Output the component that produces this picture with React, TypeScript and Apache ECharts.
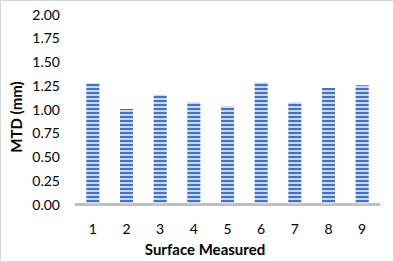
import React, { useEffect, useRef } from "react";
import * as echarts from "echarts";

const categories = ["1", "2", "3", "4", "5", "6", "7", "8", "9"];
const mtdValues = [1.27, 1.0, 1.15, 1.07, 1.03, 1.28, 1.07, 1.22, 1.25];
const yTicks = [0, 0.25, 0.5, 0.75, 1.0, 1.25, 1.5, 1.75, 2.0];
const xTitle = "Surface Measured";
const yTitle = "MTD (mm)";

export default function App() {
  const ref = useRef<HTMLDivElement>(null);
  useEffect(() => {
    if (!ref.current) return;
    const chart = echarts.init(ref.current, null, { renderer: "svg" });
    const font = "Lato, 'Open Sans', 'Liberation Sans', sans-serif";
    chart.setOption({
      animation: false,
      backgroundColor: "#ffffff",
      grid: { left: 76, right: 15, top: 14, bottom: 58, containLabel: false },
      xAxis: {
        type: "category",
        data: categories,
        axisTick: { show: false },
        axisLine: { show: true, lineStyle: { color: "#bfbfbf", width: 3 } },
        axisLabel: { color: "#000", fontFamily: font, fontSize: 14, margin: 17 },
      },
      yAxis: {
        type: "value",
        min: yTicks[0],
        max: yTicks[yTicks.length - 1],
        interval: 0.25,
        splitLine: { show: false },
        axisLine: { show: false },
        axisTick: { show: false },
        axisLabel: {
          color: "#000",
          fontFamily: font,
          fontSize: 14,
          margin: 16,
          formatter: (v: number) => v.toFixed(2),
        },
      },
      series: [
        {
          type: "bar",
          data: mtdValues,
          barWidth: 13,
          itemStyle: {
            color: "#c9d6f0",
            decal: {
              symbol: "rect",
              symbolSize: 1,
              color: "#4472c4",
              dashArrayX: [1, 0],
              dashArrayY: [2, 1.4],
              rotation: 0,
            },
          },
        },
      ],
      graphic: [
        {
          type: "rect",
          shape: { x: 0.5, y: 0.5, width: 393, height: 261 },
          style: { fill: "none", stroke: "#d9d9d9", lineWidth: 1 },
          silent: true,
        },
        {
          type: "text",
          x: 16,
          y: 117,
          rotation: Math.PI / 2,
          style: {
            text: yTitle,
            font: `bold 15px ${font}`,
            fill: "#000",
            align: "center",
            verticalAlign: "middle",
          },
        },
        {
          type: "text",
          x: 205,
          y: 249,
          style: {
            text: xTitle,
            font: `bold 15px ${font}`,
            fill: "#000",
            align: "center",
            verticalAlign: "middle",
          },
        },
      ],
    });
    return () => chart.dispose();
  }, []);
  return (
    <div
      ref={ref}
      style={{ position: "absolute", left: 0, top: 0, width: 394, height: 262 }}
    />
  );
}
